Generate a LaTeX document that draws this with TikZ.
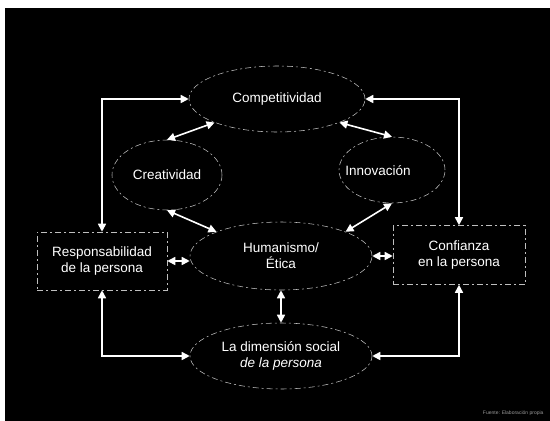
\documentclass[tikz,border=0pt]{standalone}
\usepackage{fontspec}
\setmainfont{Liberation Sans}
\usetikzlibrary{shapes.geometric,arrows.meta}
\begin{document}
\begin{tikzpicture}[x=1pt,y=1pt,
  outline/.style={draw=white!75!black, line width=0.55pt, dash pattern=on 6pt off 3pt on 2pt off 3pt},
  oval/.style={ellipse, outline, inner sep=0pt, text=white, align=center,
    font=\fontsize{13.5}{16}\selectfont},
  panel/.style={rectangle, outline, inner sep=0pt, text=white, align=center,
    font=\fontsize{13.5}{16}\selectfont},
  link/.style={draw=white, line width=1.6pt, {Triangle[length=8pt,width=8pt]}-{Triangle[length=8pt,width=8pt]}},
  caption/.style={text=white, font=\fontsize{13.5}{16}\selectfont}]
  % page and dark panel
  \fill[white] (0,0) rectangle (550,-421);
  \fill[black] (5,-8) rectangle (550,-421);
  \useasboundingbox (0,0) rectangle (550,-421);

  % concept ellipses and boxes
  \node[oval, minimum width=176pt, minimum height=66pt] (comp) at (277,-99) {Competitividad};
  \node[oval, minimum width=110pt, minimum height=70pt] (crea) at (167,-175) {Creatividad};
  \node[oval, minimum width=106pt, minimum height=66pt] (inno) at (392,-170) {};
  \node[caption] (innotxt) at (378,-171) {Innovación};
  \node[oval, minimum width=182pt, minimum height=68pt] (hum) at (281,-256) {Humanismo/\\Ética};
  \node[panel, minimum width=130pt, minimum height=58pt] (resp) at (102,-261) {Responsabilidad\\de la persona};
  \node[panel, minimum width=132pt, minimum height=59pt] (conf) at (459,-255) {Confianza\\en la persona};
  \node[oval, minimum width=182pt, minimum height=66pt] (dim) at (281,-356)
    {La dimensión social\\\textit{de la persona}};

  % connectors
  \draw[link] (resp.north) |- (comp.west);
  \draw[link] (conf.north) |- (comp.east);
  \draw[link] (resp.south) |- (dim.west);
  \draw[link] (conf.south) |- (dim.east);
  \draw[link] (hum.south) -- (dim.north);
  \draw[link] (resp.east) -- (resp.east -| hum.west);
  \draw[link] (hum.east) -- (hum.east -| conf.west);
  \draw[link] (comp.south west) -- (crea.north);
  \draw[link] (comp.south east) -- (inno.north);
  \draw[link] (crea.south) -- (hum.north west);
  \draw[link] (inno.south) -- (hum.north east);

  % source line
  \node[text=white!60!black, font=\fontsize{5}{6}\selectfont, anchor=east] (src) at (547,-413)
    {Fuente: Elaboración propia};
\end{tikzpicture}
\end{document}
